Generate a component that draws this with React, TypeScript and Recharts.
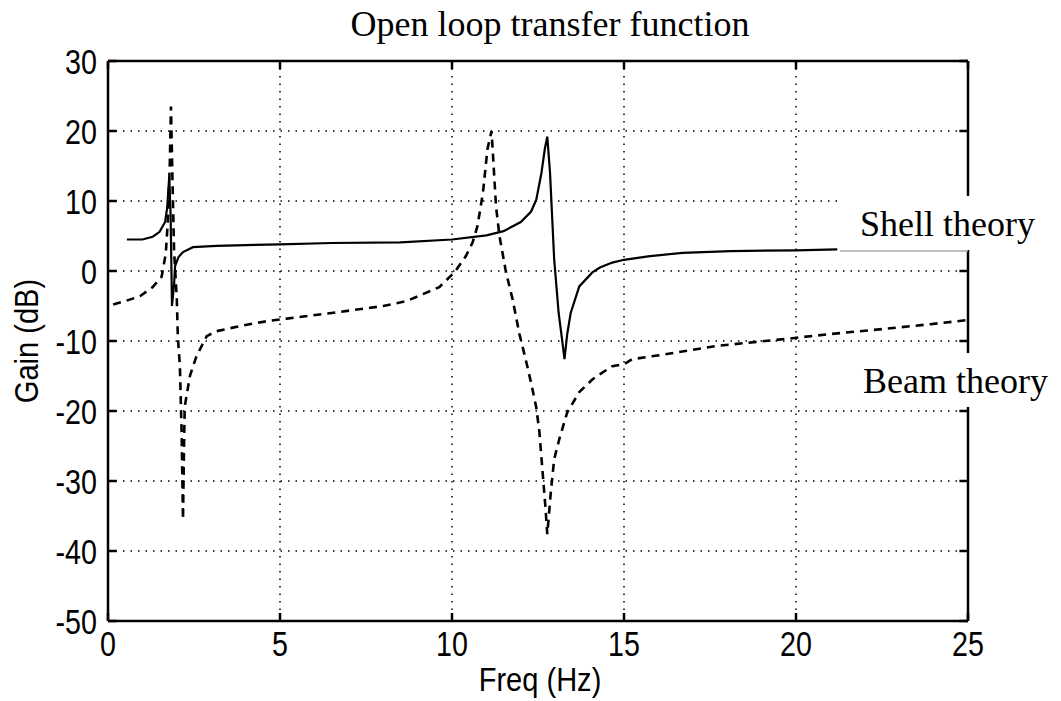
import React from 'react';
import { LineChart, Line, XAxis, YAxis, CartesianGrid, ReferenceLine } from 'recharts';

// Shell theory (solid) — freq in Hz, gain in dB
const shellFreq = [
  0.55, 1.0, 1.3, 1.5, 1.66, 1.72, 1.78, 1.82, 1.86, 1.92, 1.95, 2.05, 2.18, 2.47, 3.15, 4.0, 5.0,
  6.5, 8.5, 10.0, 11.0, 11.5, 12.0, 12.3, 12.45, 12.6, 12.7, 12.77, 12.85, 12.97, 13.1, 13.2,
  13.27, 13.35, 13.45, 13.7, 14.08, 14.3, 14.66, 15.0, 15.7, 16.7, 18.1, 20.0, 21.2,
];
const shellGain = [
  4.5, 4.5, 4.9, 5.6, 7.0, 9.0, 13.5, 8.0, -5.0, -2.0, 0.7, 2.0, 2.7, 3.4, 3.6, 3.7, 3.8,
  4.0, 4.1, 4.5, 5.1, 5.7, 7.0, 8.5, 10.2, 14.0, 17.5, 19.2, 14.0, 1.7, -6.0, -9.8,
  -12.6, -9.0, -6.0, -2.2, -0.2, 0.5, 1.2, 1.6, 2.1, 2.6, 2.85, 2.95, 3.1,
];

// Beam theory (dashed)
const beamFreq = [
  0.15, 0.5, 0.93, 1.3, 1.56, 1.68, 1.75, 1.8, 1.83, 1.87, 1.92, 2.0, 2.03, 2.09, 2.14, 2.18,
  2.21, 2.23, 2.38, 2.57, 2.87, 3.15, 3.9, 4.7, 5.2, 6.5, 8.0, 8.68, 9.63, 10.07, 10.4, 10.6,
  10.74, 10.9, 11.03, 11.15, 11.28, 11.38, 11.57, 11.76, 11.96, 12.16, 12.3, 12.45, 12.54,
  12.63, 12.72, 12.77, 12.88, 12.97, 13.12, 13.35, 13.7, 14.08, 14.28, 14.66, 15.0, 15.24,
  16.2, 17.7, 19.1, 19.9, 21.0, 22.5, 23.9, 25.0,
];
const beamGain = [
  -4.8, -4.3, -3.6, -2.3, -0.8, 2.5, 8.0, 16.0, 23.5, 14.0, 3.0, -4.0, -9.4, -13.6, -23.0, -35.5,
  -25.0, -19.4, -15.0, -12.2, -9.3, -8.6, -7.8, -7.1, -6.8, -6.0, -5.0, -4.3, -2.3, -0.2, 2.1, 4.1,
  6.4, 11.2, 17.4, 20.0, 9.2, 5.0, -0.2, -4.0, -9.0, -13.0, -16.0, -19.5, -23.0,
  -28.5, -34.0, -37.6, -31.2, -26.9, -24.0, -20.2, -17.3, -15.5, -14.8, -13.6, -13.3, -12.6,
  -11.9, -10.7, -10.0, -9.6, -9.0, -8.3, -7.6, -7.0,
];

const xTicks = [0, 5, 10, 15, 20, 25];
const yTicks = [-50, -40, -30, -20, -10, 0, 10, 20, 30];

const shellData = shellFreq.map((f, i) => ({ f, g: shellGain[i] }));
const beamData = beamFreq.map((f, i) => ({ f, g: beamGain[i] }));

const SANS = '"Liberation Sans", Arial, Helvetica, sans-serif';
const SERIF = '"Liberation Serif", "Times New Roman", serif';

const XTick = (props: any) => {
  const { x, y, payload } = props;
  return (
    <text
      transform={`translate(${x},${y + 35}) scale(0.82,1)`}
      textAnchor="middle"
      fontFamily={SANS}
      fontSize={35}
      fill="#000"
    >
      {payload.value}
    </text>
  );
};

const YTick = (props: any) => {
  const { x, y, payload } = props;
  return (
    <text
      transform={`translate(${x - 11},${y + 12.5}) scale(0.82,1)`}
      textAnchor="end"
      fontFamily={SANS}
      fontSize={35}
      fill="#000"
    >
      {payload.value}
    </text>
  );
};

export default function App() {
  return (
    <div style={{ position: 'absolute', left: 0, top: 0, width: 1061, height: 701, background: '#fff' }}>
      <LineChart width={1061} height={701} margin={{ top: 61, right: 93, bottom: 0, left: 0 }}>
        <CartesianGrid stroke="#000" strokeWidth={1.5} strokeDasharray="1.5 6" />
        <XAxis
          dataKey="f"
          type="number"
          domain={[0, 25]}
          ticks={xTicks}
          height={80}
          tickSize={0}
          tickMargin={0}
          tickLine={false}
          axisLine={{ stroke: '#000', strokeWidth: 2.5 }}
          tick={<XTick />}
          allowDataOverflow
        />
        <YAxis
          type="number"
          domain={[-50, 30]}
          ticks={yTicks}
          width={108}
          tickSize={0}
          tickMargin={0}
          tickLine={false}
          axisLine={{ stroke: '#000', strokeWidth: 2.5 }}
          tick={<YTick />}
          allowDataOverflow
        />
        {/* top and right frame */}
        <ReferenceLine y={30} stroke="#000" strokeWidth={2.5} />
        <ReferenceLine x={25} stroke="#000" strokeWidth={2.5} />
        {/* inward tick marks, matlab style */}
        {yTicks.map((t) => (
          <ReferenceLine key={`yl${t}`} segment={[{ x: 0, y: t }, { x: 0.25, y: t }]} stroke="#000" strokeWidth={2.5} />
        ))}
        {yTicks.map((t) => (
          <ReferenceLine key={`yr${t}`} segment={[{ x: 24.75, y: t }, { x: 25, y: t }]} stroke="#000" strokeWidth={2.5} />
        ))}
        {xTicks.map((t) => (
          <ReferenceLine key={`xb${t}`} segment={[{ x: t, y: -50 }, { x: t, y: -48.85 }]} stroke="#000" strokeWidth={2.5} />
        ))}
        {xTicks.map((t) => (
          <ReferenceLine key={`xt${t}`} segment={[{ x: t, y: 30 }, { x: t, y: 28.85 }]} stroke="#000" strokeWidth={2.5} />
        ))}
        <Line
          data={beamData}
          dataKey="g"
          type="linear"
          stroke="#000"
          strokeWidth={2.6}
          strokeDasharray="8 6"
          dot={false}
          isAnimationActive={false}
        />
        <Line
          data={shellData}
          dataKey="g"
          type="linear"
          stroke="#000"
          strokeWidth={2.2}
          dot={false}
          isAnimationActive={false}
        />
      </LineChart>

      <svg
        width={1061}
        height={701}
        style={{ position: 'absolute', left: 0, top: 0, pointerEvents: 'none' }}
      >
        <text x={550} y={36} textAnchor="middle" fontFamily={SERIF} fontSize={36} fill="#000">
          Open loop transfer function
        </text>

        {/* label boxes pasted over the frame */}
        <rect x={838} y={196} width={223} height={54} fill="#fff" />
        <line x1={840} y1={251} x2={968} y2={251} stroke="#aaa" strokeWidth={1.5} />
        <text x={860} y={236} fontFamily={SERIF} fontSize={36} fill="#000">
          Shell theory
        </text>

        <rect x={850} y={353} width={211} height={54} fill="#fff" />
        <text x={863} y={393} fontFamily={SERIF} fontSize={36} fill="#000">
          Beam theory
        </text>

        <text
          transform="translate(540,691) scale(0.88,1)"
          textAnchor="middle"
          fontFamily={SANS}
          fontSize={33}
          fill="#000"
        >
          Freq (Hz)
        </text>
        <text
          transform="translate(38,341) rotate(-90) scale(0.88,1)"
          textAnchor="middle"
          fontFamily={SANS}
          fontSize={33}
          fill="#000"
        >
          Gain (dB)
        </text>
      </svg>
    </div>
  );
}
